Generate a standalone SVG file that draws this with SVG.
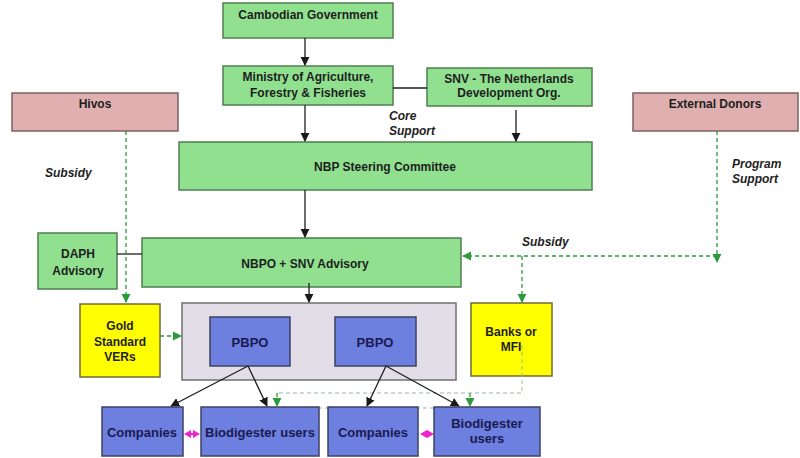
<svg xmlns="http://www.w3.org/2000/svg" width="800" height="458" viewBox="0 0 800 458">
<defs>
<marker id="ah" viewBox="0 0 10 10" refX="9" refY="5" markerWidth="7" markerHeight="7" orient="auto"><path d="M0,0 L10,5 L0,10 z" fill="#1a1a1a"/></marker>
<marker id="gh" viewBox="0 0 10 10" refX="9" refY="5" markerWidth="7" markerHeight="7" orient="auto"><path d="M0,0 L10,5 L0,10 z" fill="#2a9a3a"/></marker>
</defs>
<style>
.g{fill:#90e090;stroke:#4f7f4f;stroke-width:1.5}
.p{fill:#e0b0b0;stroke:#7f6060;stroke-width:1.5}
.y{fill:#ffff00;stroke:#6f6a3a;stroke-width:1.5}
.b{fill:#6d7fdf;stroke:#3c4260;stroke-width:1.5}
.c{fill:#e2dde6;stroke:#707070;stroke-width:1.5}
text{font-family:"Liberation Sans",Arial,sans-serif;font-weight:bold;font-size:12px;fill:#1e1e1e;text-anchor:middle}
.bt{fill:#1a1a50;font-size:13px}
.it{font-style:italic;text-anchor:start}
.k{stroke:#1e1e1e;stroke-width:1.3;fill:none}
.d{stroke:#2a9a3a;stroke-width:1.3;fill:none;stroke-dasharray:4 3}
.dl{stroke:#9ab89a;stroke-width:1;fill:none;stroke-dasharray:4 3}
.m{stroke:#ee22cc;stroke-width:2;fill:none}
.mh{fill:#ee22cc}
</style>
<rect x="0" y="0" width="800" height="458" fill="#ffffff"/>
<g id="container"><rect class="c" x="182" y="303" width="274" height="77"/></g>
<g id="cambodian-government"><rect class="g" x="223" y="3" width="170" height="35"/><text x="308" y="19">Cambodian Government</text></g>
<g id="ministry"><rect class="g" x="223" y="66" width="170" height="39"/><text x="308" y="81">Ministry of Agriculture,</text><text x="308" y="97">Forestry &amp; Fisheries</text></g>
<g id="snv"><rect class="g" x="427" y="68" width="165" height="38"/><text x="509" y="83">SNV - The Netherlands</text><text x="509" y="97">Development Org.</text></g>
<g id="hivos"><rect class="p" x="12" y="93" width="166" height="38"/><text x="95" y="108">Hivos</text></g>
<g id="external-donors"><rect class="p" x="633" y="93" width="165" height="38"/><text x="715" y="108">External Donors</text></g>
<g id="steering"><rect class="g" x="179" y="142" width="413" height="48"/><text x="385" y="171">NBP Steering Committee</text></g>
<g id="daph"><rect class="g" x="38" y="233" width="79" height="56"/><text x="78" y="258">DAPH</text><text x="78" y="275">Advisory</text></g>
<g id="nbpo"><rect class="g" x="142" y="238" width="319" height="49"/><text x="305" y="268">NBPO + SNV Advisory</text></g>
<g id="gold"><rect class="y" x="80" y="304" width="80" height="73"/><text x="120" y="330">Gold</text><text x="120" y="346">Standard</text><text x="120" y="361">VERs</text></g>
<g id="banks"><rect class="y" x="471" y="303" width="81" height="73"/><text x="511" y="336">Banks or</text><text x="511" y="351">MFI</text></g>
<g id="pbpo1"><rect class="b" x="210" y="317" width="80" height="49"/><text class="bt" x="250" y="347">PBPO</text></g>
<g id="pbpo2"><rect class="b" x="335" y="317" width="81" height="49"/><text class="bt" x="375" y="347">PBPO</text></g>
<g id="connectors">
<path class="k" d="M305,38 V65" marker-end="url(#ah)"/>
<path class="k" d="M305,105 V141" marker-end="url(#ah)"/>
<path class="k" d="M393,88 H427"/>
<path class="k" d="M516,110 V141" marker-end="url(#ah)"/>
<path class="k" d="M305,190 V237" marker-end="url(#ah)"/>
<path class="k" d="M117,254 H142"/>
<path class="k" d="M309,283 V302" marker-end="url(#ah)"/>
<path class="d" d="M126,131 V302" marker-end="url(#gh)"/>
<path class="d" d="M160,336 H181" marker-end="url(#gh)"/>
<path class="d" d="M717,131 V262" marker-end="url(#gh)"/>
<path class="d" d="M717,256 H463" marker-end="url(#gh)"/>
<path class="d" d="M522,256 V302" marker-end="url(#gh)"/>
<path class="dl" d="M522,345 V393 H277"/>
<path class="d" d="M277,393 V406" marker-end="url(#gh)"/>
<path class="d" d="M470,393 V406" marker-end="url(#gh)"/>
<path class="dl" d="M297,408 H434"/>
<path class="k" d="M248,366 L171,406" marker-end="url(#ah)"/>
<path class="k" d="M248,366 L267,406" marker-end="url(#ah)"/>
<path class="k" d="M386,366 L367,406" marker-end="url(#ah)"/>
<path class="k" d="M386,366 L459,406" marker-end="url(#ah)"/>
<path class="m" d="M189,434 H195"/>
<path class="mh" d="M184,434 L191,430 L191,438 z M200,434 L193,430 L193,438 z"/>
<path class="mh" d="M420,434 L427,430 L434,434 L427,438 z"/>
</g>
<g id="companies1"><rect class="b" x="102" y="407" width="81" height="49"/><text class="bt" x="142" y="437">Companies</text></g>
<g id="bio1"><rect class="b" x="201" y="407" width="118" height="49"/><text class="bt" x="260" y="437">Biodigester users</text></g>
<g id="companies2"><rect class="b" x="328" y="407" width="90" height="49"/><text class="bt" x="373" y="437">Companies</text></g>
<g id="bio2"><rect class="b" x="434" y="407" width="106" height="49"/><text class="bt" x="487" y="428">Biodigester</text><text class="bt" x="487" y="443">users</text></g>
<g id="labels">
<text class="it" x="389" y="120">Core</text>
<text class="it" x="389" y="135">Support</text>
<text class="it" x="45" y="177">Subsidy</text>
<text class="it" x="732" y="168">Program</text>
<text class="it" x="732" y="183">Support</text>
<text class="it" x="522" y="246">Subsidy</text>
</g>
</svg>
